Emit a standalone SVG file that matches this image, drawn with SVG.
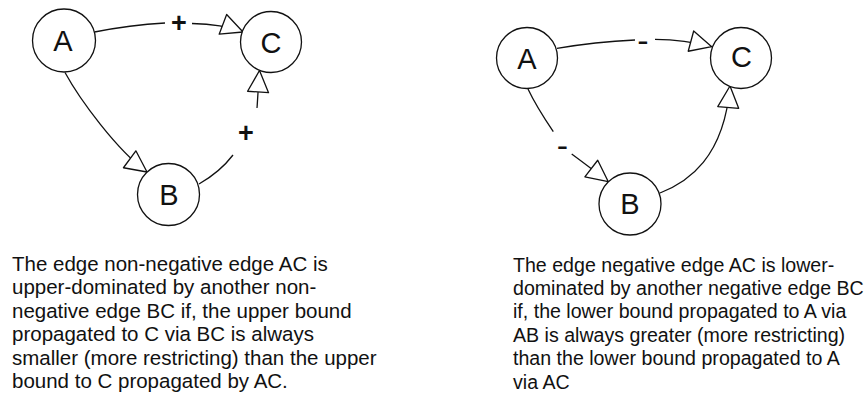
<svg xmlns="http://www.w3.org/2000/svg" width="868" height="394" viewBox="0 0 868 394">
  <style>
    .node circle { fill: #fff; stroke: #111; stroke-width: 1.3; }
    .node text { font-family: "Liberation Sans", Arial, sans-serif; font-size: 29px; fill: #111; text-anchor: middle; }
    .edge path { fill: none; stroke: #111; stroke-width: 1.3; }
    .sign { font-family: "Liberation Sans", Arial, sans-serif; fill: #111; text-anchor: middle; }
    .plus { font-size: 27px; font-weight: bold; }
    .minus { font-size: 34px; }
    .caption { font-family: "Liberation Sans", Arial, sans-serif; font-size: 20.5px; fill: #111; }
    #caption-right { font-size: 19.6px; }
  </style>
  <defs>
    <marker id="open-arrow" markerUnits="userSpaceOnUse" viewBox="-23 -12 25 24" refX="0" refY="0" markerWidth="25" markerHeight="24" orient="auto" overflow="visible">
      <path d="M0,0 L-21.5,-10.5 L-21.5,10.5 Z" fill="#fff" stroke="#111" stroke-width="1.3" stroke-linejoin="round"/>
    </marker>
  </defs>

  <rect width="868" height="394" fill="#fff"/>

  <!-- connectors -->
  <g id="connectors">
    <!-- left: A -> C (+) -->
    <g class="edge" id="left-AC">
      <path d="M94.5,32 Q130,25 165,23"/>
      <path d="M192,23.5 Q222,24 243,32" marker-end="url(#open-arrow)"/>
      <text class="sign plus" x="179" y="32">+</text>
    </g>
    <!-- left: A -> B -->
    <g class="edge" id="left-AB">
      <path d="M65,72.5 C80,100 117,150 147,172" marker-end="url(#open-arrow)"/>
    </g>
    <!-- left: B -> C (+) -->
    <g class="edge" id="left-BC">
      <path d="M199,184 Q220,172 233,155"/>
      <path d="M257,108 L259.5,70.5" marker-end="url(#open-arrow)"/>
      <text class="sign plus" x="246" y="142">+</text>
    </g>

    <!-- right: A -> C (-) -->
    <g class="edge" id="right-AC">
      <path d="M557,48.3 Q595,42 635,40"/>
      <path d="M655,39.3 Q685,39.5 711.7,46.7" marker-end="url(#open-arrow)"/>
      <text class="sign minus" x="643" y="52">-</text>
    </g>
    <!-- right: A -> B (-) -->
    <g class="edge" id="right-AB">
      <path d="M528,89 Q536,106 553.3,131.7"/>
      <path d="M571.7,154 Q588,166 608.3,181.7" marker-end="url(#open-arrow)"/>
      <text class="sign minus" x="562.5" y="157">-</text>
    </g>
    <!-- right: B -> C -->
    <g class="edge" id="right-BC">
      <path d="M660,193 C688,182 724,158 730,86" marker-end="url(#open-arrow)"/>
    </g>
  </g>

  <!-- left graph nodes -->
  <g class="node" id="left-A">
    <circle cx="64" cy="40.5" r="31.5"/>
    <text x="63" y="50.5">A</text>
  </g>
  <g class="node" id="left-B">
    <circle cx="168.5" cy="194.5" r="31"/>
    <text x="169" y="205">B</text>
  </g>
  <g class="node" id="left-C">
    <circle cx="271" cy="42" r="30.5"/>
    <text x="271" y="52.5">C</text>
  </g>

  <!-- right graph nodes -->
  <g class="node" id="right-A">
    <circle cx="527" cy="58" r="30.5"/>
    <text x="527" y="68.5">A</text>
  </g>
  <g class="node" id="right-B">
    <circle cx="630" cy="204" r="31"/>
    <text x="630" y="213.5">B</text>
  </g>
  <g class="node" id="right-C">
    <circle cx="741" cy="58" r="30.5"/>
    <text x="741.5" y="67">C</text>
  </g>

  <!-- captions -->
  <g id="caption-left" class="caption">
    <text x="12" y="270.8">The edge non-negative edge AC is</text>
    <text x="12" y="294.3">upper-dominated by another non-</text>
    <text x="12" y="317.8">negative edge BC if, the upper bound</text>
    <text x="12" y="341.3">propagated to C via BC is always</text>
    <text x="12" y="364.8">smaller (more restricting) than the upper</text>
    <text x="12" y="388.3">bound to C propagated by AC.</text>
  </g>
  <g id="caption-right" class="caption">
    <text x="513" y="271.5">The edge negative edge AC is lower-</text>
    <text x="513" y="294.9">dominated by another negative edge BC</text>
    <text x="513" y="318.3">if, the lower bound propagated to A via</text>
    <text x="513" y="341.7">AB is always greater (more restricting)</text>
    <text x="513" y="365.1">than the lower bound propagated to A</text>
    <text x="513" y="388.5">via AC</text>
  </g>
</svg>
